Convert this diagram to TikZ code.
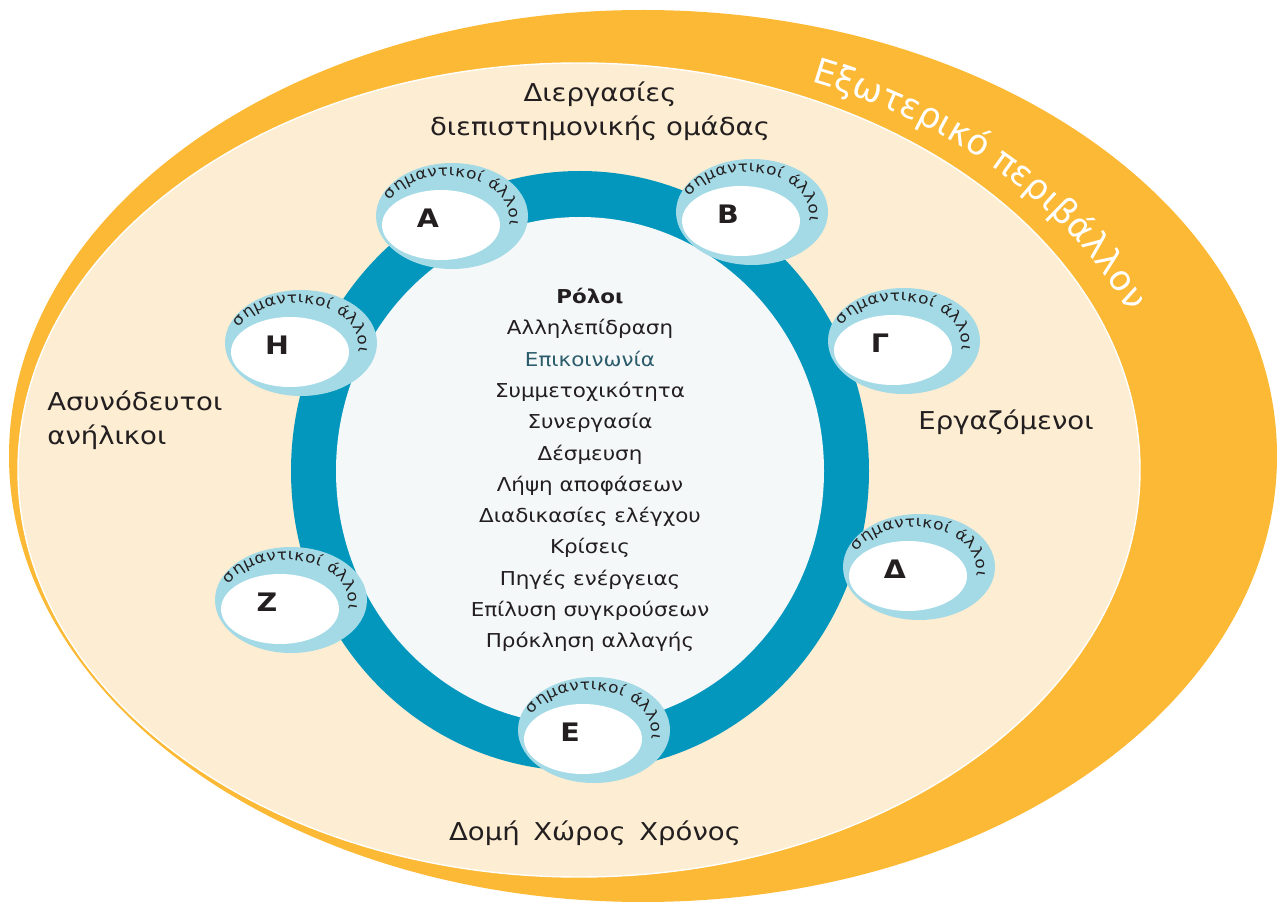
\documentclass[tikz,border=0pt]{standalone}
\usepackage{fontspec}
\setmainfont[FakeStretch=1.12]{DejaVu Sans}
\newfontfamily\bandfont{DejaVu Sans}
\usepackage{tikz}
\usepackage{xcolor}
\usetikzlibrary{decorations.text,positioning}
\definecolor{bandorange}{HTML}{FCB935}
\definecolor{cream}{HTML}{FDEDD2}
\definecolor{ringblue}{HTML}{0397BD}
\definecolor{skyring}{HTML}{A3DAE6}
\definecolor{corefill}{HTML}{F5F8F9}
\definecolor{ink}{HTML}{231F20}
\definecolor{tealtext}{HTML}{2B5C6B}
\newcommand\satfont{\fontsize{8.6}{9}\selectfont\color{ink}}
\newcommand\bandtext{\bandfont\fontsize{20}{20}\selectfont\color{white}}
\tikzset{
  biglabel/.style={text=ink,font=\fontsize{14}{19.5}\selectfont,
                   align=center,inner sep=0pt},
  rolelist/.style={text=ink,font=\fontsize{10.9}{17.8}\selectfont,
                   align=center,inner sep=0pt},
  satletter/.style={text=ink,font=\fontsize{14.5}{14.5}\selectfont\bfseries,
                    inner sep=0pt},
  pics/satellite/.style={code={
    \fill[skyring] (0,0) ellipse [x radius=76,y radius=53];
    \fill[white] (-11,-9) ellipse [x radius=59,y radius=35];
    \node[satletter] (-letter) at (-24,-2) {#1};
    \path[decorate,decoration={text along path,text align=fit to path,
        text={|\satfont|σημαντικοί άλλοι}}]
      (-5,-2) ++(155:63 and 42)
      arc [start angle=155,end angle=-10,x radius=63,y radius=42];
  }}
}

\begin{document}
\begin{tikzpicture}[x=0.02cm,y=0.02cm]
    \useasboundingbox (0,0) rectangle (1279,-902);

    % environment bands
    \fill[bandorange] (643,-456) ellipse [x radius=634,y radius=446];
    \filldraw[fill=cream,draw=white,line width=0.8pt]
      (579,-470) ellipse [x radius=561,y radius=407];
    \path[decorate,decoration={text along path,text align=center,
        text={|\bandtext|Εξωτερικό περιβάλλον}}]
      (600,-470) ++(70:570 and 418)
      arc [start angle=70,end angle=20,x radius=570,y radius=418];

    % team ring
    \fill[ringblue] (580,-471) ellipse [x radius=289,y radius=300];
    \fill[corefill] (580,-471) ellipse [x radius=244,y radius=254];

    \node[rolelist] (roles) at (590,-470)
      {\textbf{Ρόλοι}\\Αλληλεπίδραση\\\textcolor{tealtext}{Επικοινωνία}\\
       Συμμετοχικότητα\\Συνεργασία\\Δέσμευση\\Λήψη αποφάσεων\\
       Διαδικασίες ελέγχου\\Κρίσεις\\Πηγές ενέργειας\\
       Επίλυση συγκρούσεων\\Πρόκληση αλλαγής};

    % significant others
    \pic (satA) at (452,-216) {satellite=Α};
    \pic (satB) at (752,-212) {satellite=Β};
    \pic (satG) at (904,-341) {satellite=Γ};
    \pic (satD) at (919,-567) {satellite=Δ};
    \pic (satE) at (594,-730) {satellite=Ε};
    \pic (satZ) at (291,-600) {satellite=Ζ};
    \pic (satH) at (301,-343) {satellite=Η};

    % labels
    \node[biglabel] (process) at (600,-111)
      {Διεργασίες\\διεπιστημονικής ομάδας};
    \node[biglabel,align=left,anchor=west] (minors) at (47,-420)
      {Ασυνόδευτοι\\ανήλικοι};
    \node[biglabel] (workers) at (1006,-422) {Εργαζόμενοι};
    \node[biglabel] (frame) at (595,-833)
      {Δομή\hspace{0.55em}Χώρος\hspace{0.55em}Χρόνος};
  \end{tikzpicture}
\end{document}
